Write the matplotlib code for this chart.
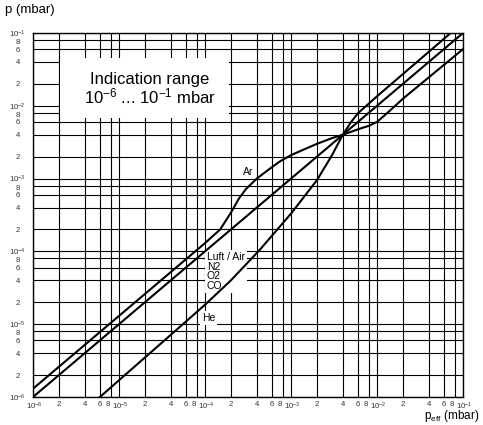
import matplotlib
matplotlib.use('Agg')
import matplotlib.pyplot as plt
import matplotlib.transforms as mtransforms
import numpy as np
from matplotlib.ticker import LogLocator, FuncFormatter
from matplotlib.patches import Rectangle

plt.rcParams['font.family'] = ['Liberation Sans', 'DejaVu Sans']
plt.rcParams['mathtext.fontset'] = 'custom'
plt.rcParams['mathtext.rm'] = 'Liberation Sans'
plt.rcParams['mathtext.it'] = 'Liberation Sans:italic'

# Luft / Air, N2, O2, CO : indicated = effective
air_peff = [1e-6, 1e-1]
air_p = [1e-6, 1e-1]

# Argon
ar_peff = [1e-6, 1e-4, 1.5e-4, 2.0e-4, 2.5e-4, 3.0e-4, 4.0e-4, 5.5e-4, 7.3e-4,
           1.0e-3, 1.4e-3, 2.0e-3, 3.0e-3, 4.0e-3, 5.0e-3, 6.5e-3, 8.0e-3,
           1.0e-2, 1.4e-2, 2.0e-2, 1e-1]
ar_p = [1.3e-6, 1.3e-4, 2.0e-4, 3.4e-4, 5.4e-4, 7.2e-4, 1.0e-3, 1.33e-3, 1.7e-3,
        2.1e-3, 2.5e-3, 3.0e-3, 3.6e-3, 4.0e-3, 4.4e-3, 4.9e-3, 5.3e-3,
        6.0e-3, 8.5e-3, 1.25e-2, 6.0e-2]

# Helium
he_peff = [6e-6, 5e-5, 1e-4, 2e-4, 4.3e-4, 1e-3, 2e-3, 3e-3, 4e-3, 5e-3,
           6e-3, 1e-2, 7.2e-2]
he_p = [1e-6, 9e-6, 1.85e-5, 4e-5, 1.04e-4, 3.3e-4, 9.5e-4, 2.1e-3, 4e-3,
        6e-3, 7.9e-3, 1.35e-2, 1e-1]

fig = plt.figure(figsize=(4.83, 4.25), dpi=100)
ax = fig.add_axes([33 / 483, 28 / 425, 430 / 483, 364 / 425])

ax.set_xscale('log')
ax.set_yscale('log')
ax.set_xlim(1e-6, 1e-1)
ax.set_ylim(1e-6, 1e-1)


def fmt(v, pos):
    e = int(np.floor(np.log10(v) + 1e-9))
    m = int(round(v / 10 ** e))
    if m == 1:
        return r'$10^{%d}$' % e
    return str(m)


for axis in (ax.xaxis, ax.yaxis):
    axis.set_major_locator(LogLocator(base=10, subs=[1.0]))
    axis.set_minor_locator(LogLocator(base=10, subs=[2.0, 4.0, 6.0, 8.0]))
    axis.set_major_formatter(FuncFormatter(fmt))
    axis.set_minor_formatter(FuncFormatter(fmt))

ax.tick_params(which='both', length=0, labelsize=5.6, labelcolor='#333333')
ax.tick_params(axis='x', which='both', pad=3)
ax.tick_params(axis='y', which='both', pad=11)

ax.set_axisbelow(True)
ax.grid(True, which='both', color='black', linewidth=0.8)
for s in ax.spines.values():
    s.set_linewidth(1.0)

# white box behind the indication range text
ax.add_patch(Rectangle((0.063, 0.766), 0.393, 0.165, transform=ax.transAxes,
                       facecolor='white', edgecolor='none', zorder=2))
ax.text(0.272, 0.861, 'Indication range', transform=ax.transAxes,
        ha='center', va='baseline', fontsize=12, zorder=4)
ax.text(0.272, 0.806, r'10$^{-6}$ ... 10$^{-1}$ mbar', transform=ax.transAxes,
        ha='center', va='baseline', fontsize=12, zorder=4)

ax.plot(air_peff, air_p, color='black', linewidth=1.5, zorder=3)
ax.plot(ar_peff, ar_p, color='black', linewidth=1.5, zorder=3)
ax.plot(he_peff, he_p, color='black', linewidth=1.5, zorder=3)

box = dict(facecolor='white', edgecolor='none', pad=1.5)
ax.text(1.05e-4, 9.8e-5, 'Luft / Air\nN2\nO2\nCO', ha='left', va='top',
        fontsize=7.5, linespacing=0.95, bbox=box, zorder=2.5)
ax.text(9.2e-5, 1.22e-5, 'He', ha='left', va='center', fontsize=7.5,
        bbox=box, zorder=2.5)
ax.text(2.75e-4, 1.23e-3, 'Ar', ha='left', va='center', fontsize=7.5,
        bbox=box, zorder=2.5)

fig.text(5 / 483, 1 - 10 / 425, 'p (mbar)', ha='left', va='center', fontsize=9.5)
fig.text(479 / 483, 1 / 425, r'p$_{\mathregular{eff}}$ (mbar)',
         ha='right', va='bottom', fontsize=8.5)

# y labels centred in their column; tightly packed labels nudged apart a little
fig.canvas.draw()
for lab in ax.get_yticklabels(which='both'):
    lab.set_horizontalalignment('center')
shift_left = mtransforms.ScaledTranslation(-2.5 / 100, 0, fig.dpi_scale_trans)
shift_right = mtransforms.ScaledTranslation(1.0 / 100, 0, fig.dpi_scale_trans)
shift_down = mtransforms.ScaledTranslation(0, -1.5 / 100, fig.dpi_scale_trans)
for lab in ax.get_xticklabels(which='minor'):
    if lab.get_text() == '8':
        lab.set_transform(lab.get_transform() + shift_left)
for lab in ax.get_xticklabels(which='major'):
    lab.set_transform(lab.get_transform() + shift_right)
for lab in ax.get_yticklabels(which='minor'):
    if lab.get_text() == '8':
        lab.set_transform(lab.get_transform() + shift_down)

fig.savefig('out.png', dpi=100)
